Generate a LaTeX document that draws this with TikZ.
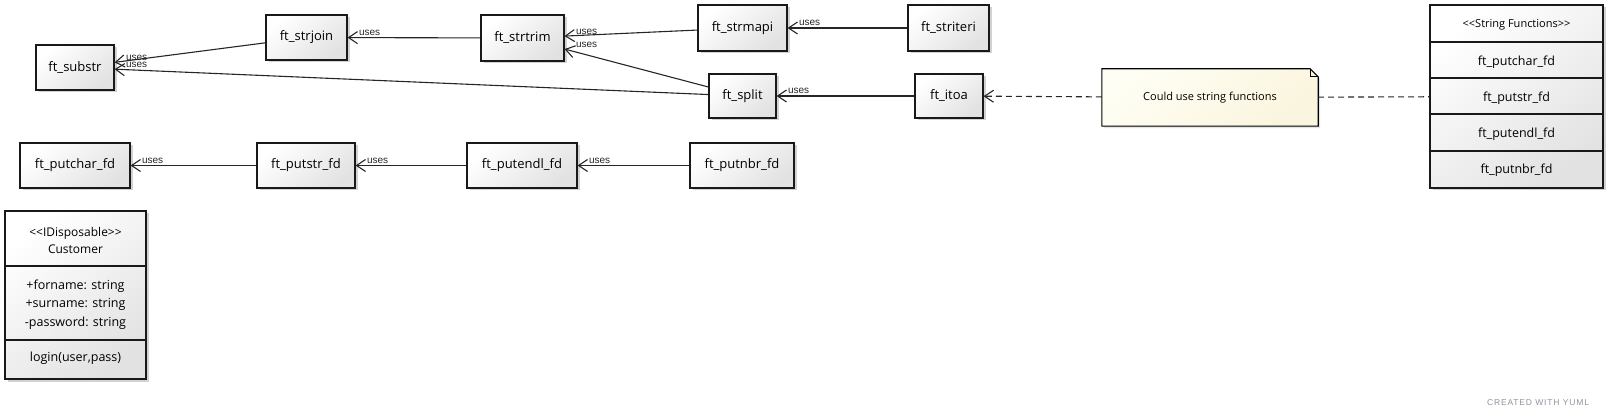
\documentclass[tikz,border=0pt]{standalone}
\usepackage{fontspec}
\setmainfont{Open Sans}
\newfontfamily\labelfont{Liberation Sans}
\usetikzlibrary{arrows.meta, shadows, backgrounds, positioning}

\definecolor{boxgray}{RGB}{226,226,226}
\definecolor{notetop}{RGB}{255,254,244}
\definecolor{notebot}{RGB}{250,245,222}
\definecolor{yumlgray}{RGB}{140,146,156}

\tikzset{
    fnbox/.style = {draw=black!90, line width=1.1pt, top color=white, bottom color=boxgray,
        shading angle=40, minimum height=45pt, inner sep=0pt,
        font=\fontsize{13}{15}\selectfont,
        drop shadow={shadow xshift=2.5pt, shadow yshift=-2.5pt, opacity=.25, fill=black!70}},
    usesarrow/.style = {draw=black!85, line width=1.1pt, -{Straight Barb[length=9pt, width=12pt]}},
    useslabel/.style = {pos=1, anchor=base west, inner sep=0pt, xshift=11pt, yshift=2pt,
        font=\labelfont\fontsize{10}{10}\selectfont, text=black!85},
    notelink/.style = {draw=black!85, line width=1.1pt, dash pattern=on 6pt off 4pt},
    divider/.style = {draw=black!90, line width=1.1pt},
    parttext/.style = {inner sep=0pt, align=center}
}

\begin{document}
\begin{tikzpicture}[x=1pt, y=-1pt]
    \useasboundingbox (0,0) rectangle (1608,419);

    % string helpers
    \node[fnbox, minimum width=78pt] (substr) at (75,67.5) {ft\_substr};
    \node[fnbox, minimum width=81pt] (strjoin) at (306.5,37.5) {ft\_strjoin};
    \node[fnbox, minimum width=83pt, minimum height=46pt] (strtrim) at (522.5,38) {ft\_strtrim};
    \node[fnbox, minimum width=89pt, minimum height=46pt] (strmapi) at (742.5,28) {ft\_strmapi};
    \node[fnbox, minimum width=81pt, minimum height=46pt] (striteri) at (948.5,28) {ft\_striteri};
    \node[fnbox, minimum width=67pt, minimum height=44pt] (split) at (742.5,96) {ft\_split};
    \node[fnbox, minimum width=68pt, minimum height=44pt] (itoa) at (949,96) {ft\_itoa};

    % output helpers
    \node[fnbox, minimum width=110pt] (putchar) at (75,165.5) {ft\_putchar\_fd};
    \node[fnbox, minimum width=98pt] (putstr) at (306,165.5) {ft\_putstr\_fd};
    \node[fnbox, minimum width=110pt] (putendl) at (522,165.5) {ft\_putendl\_fd};
    \node[fnbox, minimum width=104pt] (putnbr) at (742,165.5) {ft\_putnbr\_fd};

    % note
    \node[minimum width=216pt, minimum height=57pt, inner sep=0pt,
          font=\fontsize{11}{13}\selectfont] (note) at (1210,97.5) {Could use string functions};
    \begin{scope}[on background layer]
        \draw[line width=1.1pt, top color=notetop, bottom color=notebot, shading angle=40,
              drop shadow={shadow xshift=2pt, shadow yshift=-2pt, opacity=.15, fill=black!70}]
            (note.south west) -- (note.north west) -- ([xshift=-8pt]note.north east)
            -- ([yshift=-8pt]note.north east) -- (note.south east) -- cycle;
    \end{scope}
    \draw[line width=.8pt] ([xshift=-8pt]note.north east) -- ([xshift=-8pt, yshift=-8pt]note.north east)
        -- ([yshift=-8pt]note.north east);

    % string functions class
    \node[fnbox, minimum width=173pt, minimum height=183pt] (strfuncs) at (1516.5,96.5) {};
    \foreach \y in {42,78,114,151}
        \draw[divider] (strfuncs.west |- 0,\y) -- (strfuncs.east |- 0,\y);
    \node[parttext, font=\fontsize{11}{13}\selectfont] (sfhead) at (1516.5,25) {<{}<String Functions>{}>};
    \node[parttext, font=\fontsize{12.5}{14}\selectfont] (sfputchar) at (1516.5,62) {ft\_putchar\_fd};
    \node[parttext, font=\fontsize{12.5}{14}\selectfont] (sfputstr) at (1516.5,98) {ft\_putstr\_fd};
    \node[parttext, font=\fontsize{12.5}{14}\selectfont] (sfputendl) at (1516.5,134) {ft\_putendl\_fd};
    \node[parttext, font=\fontsize{12.5}{14}\selectfont] (sfputnbr) at (1516.5,170) {ft\_putnbr\_fd};

    % customer class
    \node[fnbox, minimum width=141pt, minimum height=168pt] (customer) at (75.5,295) {};
    \draw[divider] (customer.west |- 0,266) -- (customer.east |- 0,266);
    \draw[divider] (customer.west |- 0,340) -- (customer.east |- 0,340);
    \node[parttext, font=\fontsize{12}{17}\selectfont] (custhead) at (75.5,240.5) {<{}<IDisposable>{}>\\Customer};
    \node[parttext, font=\fontsize{12.5}{18.5}\selectfont] (custattr) at (75.5,304.5)
        {+forname: string\\+surname: string\\-password: string};
    \node[parttext, font=\fontsize{12.5}{14}\selectfont] (custop) at (75.5,358) {login(user,pass)};

    % uses
    \path[usesarrow] (strjoin) edge node[useslabel] {uses} (substr);
    \path[usesarrow] (split) edge node[useslabel] {uses} (substr);
    \path[usesarrow] (strtrim) edge node[useslabel] {uses} (strjoin);
    \path[usesarrow] (strmapi) edge node[useslabel] {uses} (strtrim);
    \path[usesarrow] (split) edge node[useslabel] {uses} (strtrim);
    \path[usesarrow] (striteri) edge node[useslabel] {uses} (strmapi);
    \path[usesarrow] (itoa) edge node[useslabel] {uses} (split);
    \path[usesarrow] (putstr) edge node[useslabel] {uses} (putchar);
    \path[usesarrow] (putendl) edge node[useslabel] {uses} (putstr);
    \path[usesarrow] (putnbr) edge node[useslabel] {uses} (putendl);

    % note links
    \path[notelink, -{Straight Barb[length=9pt, width=12pt]}] (note) edge (itoa);
    \path[notelink] (note) edge (strfuncs);

    \node[text=yumlgray, inner sep=0pt, font=\labelfont\fontsize{8.5}{9}\selectfont\addfontfeature{LetterSpace=10}]
        (credit) at (1538,403) {CREATED WITH YUML};
\end{tikzpicture}
\end{document}
